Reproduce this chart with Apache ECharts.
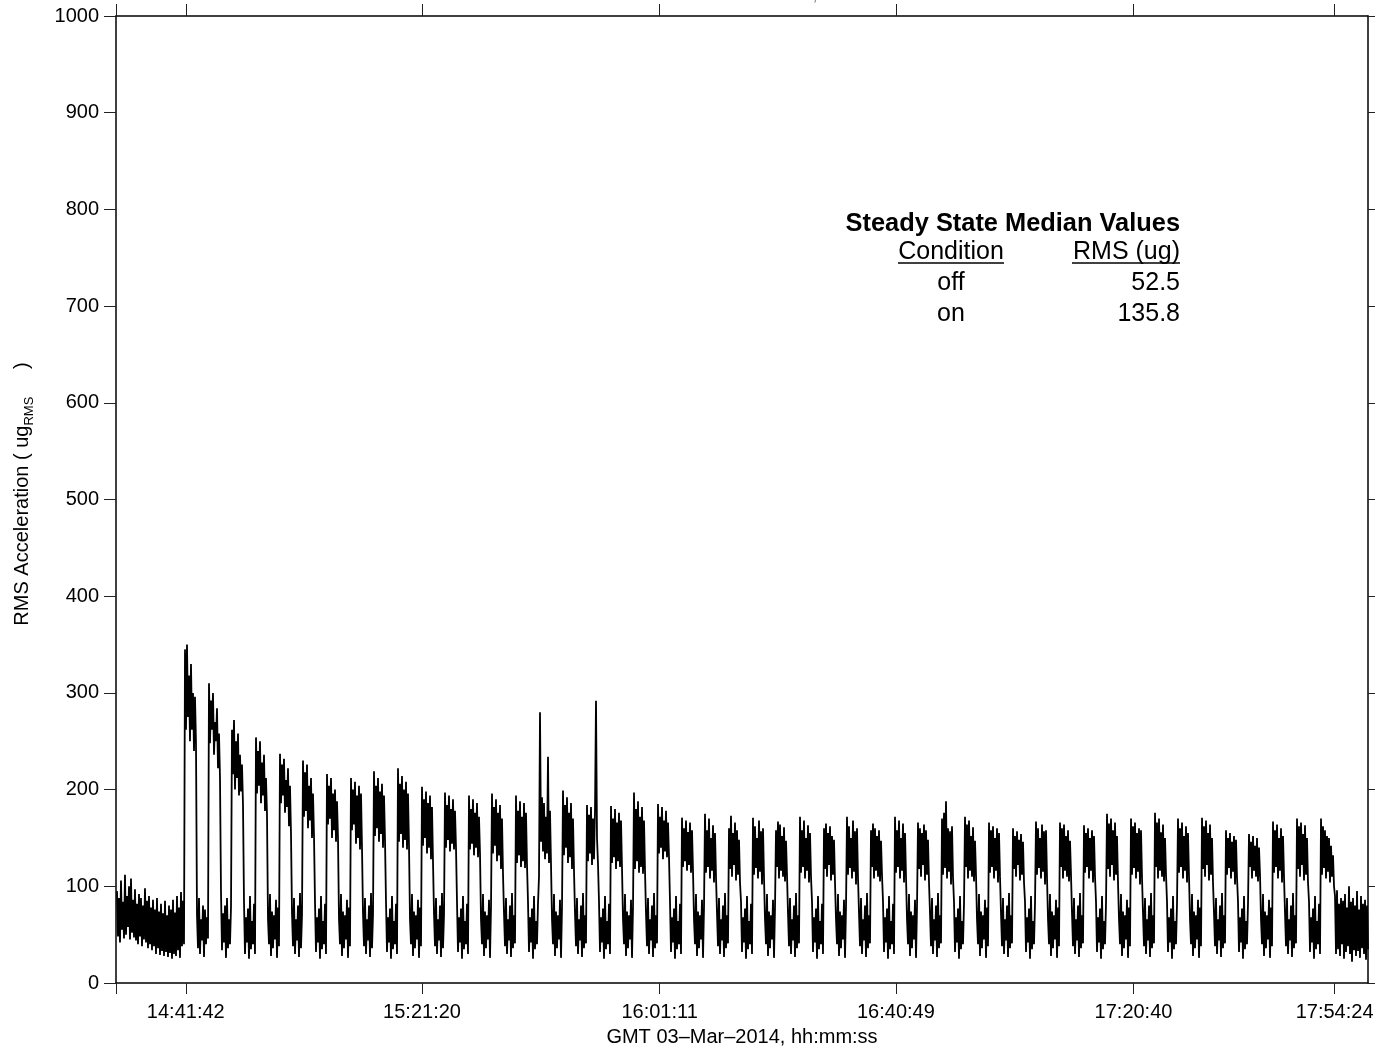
<!DOCTYPE html>
<html><head><meta charset="utf-8">
<script src="https://cdn.jsdelivr.net/npm/echarts@6/dist/echarts.min.js"></script>
<style>html,body{margin:0;padding:0;background:#fff}#c{width:1375px;height:1047px}</style>
</head><body><div id="c"></div>
<script>
const FONT = '"Liberation Sans", Arial, Helvetica, sans-serif';
// x axis (seconds of day)
const axisStart = 52200;   // 14:30:00
const axisEnd = 64800;     // 18:00:00
const tickSeconds = [52902, 55280, 57671, 60049, 62440, 64464];
const tickLabels = ['14:41:42', '15:21:20', '16:01:11', '16:40:49', '17:20:40', '17:54:24'];
// samples
const sampleStart = 52210;
const sampleStep = 10.064;
// median table
const tableConditions = ['off', 'on'];
const tableValues = ['52.5', '135.8'];

// RMS values (ug): alternating upper / lower excursions
const rmsBefore = [95,48,88,42,106,55,84,46,112,50,90,58,100,45,108,52,86,47,97,44,82,40,92,48,88,38,80,45,98,42,85,36,90,40,78,34,86,38,76,30,88,36,74,29,82,33,72,28,85,32,70,27,80,31,76,25,86,30,73,28,90,34,78,26,94,38,85,40];
const rmsCycles = [
[345,262,350,275,318,250,330,262,300,240,296,248, 70,36,88,30,66,44,80,27,76,40,68,46],
[310,248,292,262,300,236,270,250,284,222,258,212, 94,34,72,42,80,26,88,36,66,40,78],
[262,216,272,200,250,212,258,194,236,198,226,184, 84,30,68,42,77,25,90,35,64,40,82,30],
[254,196,240,204,250,186,228,194,236,178,212,174, 66,40,92,28,74,36,70,45,86,26,78,38],
[237,186,226,194,232,176,210,182,222,162,204,154, 72,38,88,30,66,44,80,27,93,36,70],
[230,172,218,178,226,160,204,168,212,150,196,152, 84,32,68,42,77,25,90,35,64,40,82,30],
[216,164,204,170,212,150,196,158,200,146,188,150, 66,40,92,28,74,36,70,45,86,26,78,38],
[212,158,200,164,208,144,194,150,204,138,196,140, 72,38,88,30,66,44,80,27,93,36,70],
[219,152,204,160,212,146,198,154,206,140,194,148, 84,32,68,42,77,25,90,35,64,40,82,30],
[222,146,206,154,214,140,200,148,208,138,196,142, 66,40,92,28,74,36,70,45,86,26,78,38],
[203,142,190,150,198,134,186,140,194,128,182,126, 72,38,88,30,66,44,80,27,93,36,70],
[197,140,184,148,194,136,180,144,190,138,178,140, 84,32,68,42,77,25,90,35,64,40,82,30],
[194,138,180,144,190,132,176,140,186,130,172,134, 66,40,92,28,74,36,70,45,86,26,78],
[196,134,182,142,190,126,176,132,184,118,170,113, 72,38,88,30,66,44,80,27,93,36,70,41],
[194,124,178,132,188,120,172,126,186,119,176,122, 84,32,68,42,77,25,90,35,64,40,82,110],
[280,146,192,136,186,128,172,134,234,124,178,123, 66,40,92,28,74,36,70,45,86,26,78],
[199,132,184,140,192,124,176,130,186,118,170,116, 72,38,88,30,66,44,80,27,93,36,70,41],
[184,126,174,134,182,122,170,128,178,292,150,123, 84,32,68,42,77,25,90,35,64,40,82,30],
[183,124,170,130,180,118,166,126,176,120,168,119, 66,40,92,28,74,36,70,45,86,26,78],
[197,118,180,126,188,114,172,120,182,113,168,116, 72,38,88,30,66,44,80,27,93,36,70,41],
[185,134,172,140,182,128,168,136,178,130,166,130, 84,32,68,42,77,25,90,35,64,40,82,30],
[171,120,160,126,168,116,156,122,166,114,158,116, 66,40,92,28,74,36,70,45,86,26,78],
[175,114,158,120,170,108,150,116,163,104,155,110, 72,38,88,30,66,44,80,27,93,36,70,41],
[160,118,173,110,155,122,166,106,158,112,148,104, 84,32,68,42,77,25,90,35,64,40,82,30],
[171,112,162,119,150,108,168,115,157,102,160,109, 66,40,92,28,74,36,70,45,86,26,78],
[158,120,167,108,164,116,152,110,161,105,147,112, 72,38,88,30,66,44,80,27,93,36,70,41],
[172,114,158,120,168,108,150,116,163,104,155,110, 84,32,68,42,77,25,90,35,64,40,82,30],
[160,118,165,110,155,122,162,106,152,112,148,104, 66,40,92,28,74,36,70,45,86,26,78],
[172,112,162,119,150,108,168,115,157,102,160,109, 72,38,88,30,66,44,80,27,93,36,70,41],
[158,120,165,108,160,116,152,110,158,105,147,112, 84,32,68,42,77,25,90,35,64,40,82,30],
[172,114,158,120,168,108,150,116,165,104,155,110, 66,40,92,28,74,36,70,45,86,26,78],
[166,118,160,110,155,122,164,106,158,112,148,104, 72,38,88,30,66,44,80,27,93,36,70,41],
[170,112,176,119,188,108,160,115,157,102,162,109, 84,32,68,42,77,25,90,35,64,40,82],
[172,120,164,108,168,116,152,110,161,105,147,112, 66,40,92,28,74,36,70,45,86,26,78,38],
[166,114,158,120,162,108,150,116,160,104,155,110, 72,38,88,30,66,44,80,27,93,36,70,41],
[160,118,152,110,157,122,148,106,154,112,146,104, 84,32,68,42,77,25,90,35,64,40,82],
[167,112,160,119,150,108,164,115,157,102,158,109, 66,40,92,28,74,36,70,45,86,26,78,38],
[166,120,160,108,164,116,152,110,158,105,147,112, 72,38,88,30,66,44,80,27,93,36,70,41],
[163,114,155,120,160,108,150,116,158,104,152,110, 84,32,68,42,77,25,90,35,64,40,82],
[175,118,165,110,170,122,158,106,166,112,152,104, 66,40,92,28,74,36,70,45,86,26,78,38],
[170,112,162,119,166,108,155,115,160,102,158,109, 72,38,88,30,66,44,80,27,93,36,70,41],
[176,120,166,108,170,116,156,110,164,105,150,112, 84,32,68,42,77,25,90,35,64,40,82],
[170,114,160,120,166,108,152,116,162,104,155,110, 66,40,92,28,74,36,70,45,86,26,78,38],
[171,118,162,110,168,122,155,106,164,112,150,104, 72,38,88,30,66,44,80,27,93,36,70,41],
[158,112,150,119,155,108,146,115,152,102,148,109, 84,32,68,42,77,25,90,35,64,40,82],
[154,120,146,108,152,116,142,110,150,105,140,112, 66,40,92,28,74,36,70,45,86,26,78,38],
[167,114,158,120,164,108,150,116,160,104,152,110, 72,38,88,30,66,44,80,27,93,36,70,41],
[170,118,162,110,166,122,154,106,163,112,150,104, 84,32,68,42,77,25,90,35,64,40,82,30],
[170,112,162,119,158,108,152,115,150,104,142,110,132,100]
];
const rmsAfter = [90,30,96,35,82,28,88,40,85,25,92,32,78,38,100,30,84,22,88,34,80,28,95,33,76,26,90,36,82,30,86,24,80,35];

const rms = rmsBefore.concat(...rmsCycles, rmsAfter);
const seriesData = rms.map((v, i) => [sampleStart + i * sampleStep, v]);

function labelFor(v) {
  for (let k = 0; k < tickSeconds.length; k++) if (Math.abs(tickSeconds[k] - v) < 1) return tickLabels[k];
  return '';
}

const chart = echarts.init(document.getElementById('c'), null, {renderer: 'canvas'});
const axisLineStyle = {color: '#000', width: 1.5};
const tickStyle = {color: '#222', width: 1};

const option = {
  animation: false,
  backgroundColor: '#fff',
  grid: {left: 116, right: 7, top: 16, bottom: 64, containLabel: false, outerBoundsMode: 'none'},
  xAxis: [{
    type: 'value', min: axisStart, max: axisEnd, position: 'bottom',
    axisLine: {show: true, onZero: false, lineStyle: axisLineStyle},
    axisTick: {show: true, inside: false, length: 11, customValues: [axisStart].concat(tickSeconds), lineStyle: tickStyle},
    axisLabel: {show: true, customValues: tickSeconds, formatter: labelFor, fontSize: 20, color: '#000', fontFamily: FONT, margin: 19},
    splitLine: {show: false},
    name: 'GMT 03\u2013Mar\u20132014, hh:mm:ss', nameLocation: 'middle', nameGap: 44,
    nameTextStyle: {fontSize: 20, color: '#000', fontFamily: FONT}
  }, {
    type: 'value', min: axisStart, max: axisEnd, position: 'top',
    axisLine: {show: true, onZero: false, lineStyle: axisLineStyle},
    axisTick: {show: true, inside: false, length: 12, customValues: [axisStart].concat(tickSeconds), lineStyle: tickStyle},
    axisLabel: {show: false},
    splitLine: {show: false}
  }],
  yAxis: [{
    type: 'value', min: 0, max: 1000, interval: 100, position: 'left',
    axisLine: {show: true, onZero: false, lineStyle: axisLineStyle},
    axisTick: {show: true, inside: false, length: 12, lineStyle: tickStyle},
    axisLabel: {show: true, fontSize: 20, color: '#000', fontFamily: FONT, margin: 17, formatter: v => String(v)},
    splitLine: {show: false},
    name: '{a|  RMS Acceleration ( ug}{b|RMS}{a|     )}', nameLocation: 'middle', nameGap: 80,
    nameTextStyle: {
      color: '#000', fontFamily: FONT,
      rich: {
        a: {fontSize: 20, lineHeight: 28, verticalAlign: 'middle', color: '#000', fontFamily: FONT},
        b: {fontSize: 13, lineHeight: 15, verticalAlign: 'bottom', color: '#000', fontFamily: FONT}
      }
    }
  }, {
    type: 'value', min: 0, max: 1000, interval: 100, position: 'right',
    axisLine: {show: true, onZero: false, lineStyle: axisLineStyle},
    axisTick: {show: true, inside: false, length: 8, lineStyle: tickStyle},
    axisLabel: {show: false},
    splitLine: {show: false}
  }],
  series: [{
    type: 'line', xAxisIndex: 0, yAxisIndex: 0,
    data: seriesData, showSymbol: false, symbol: 'none',
    lineStyle: {color: '#000', width: 1.8}, silent: true, clip: true
  }],
  graphic: [
    {type: 'text', x: 755, y: 4, silent: true,
     style: {text: 'Start GMT 03\u2013March\u20132014, 062/14:30:00', font: '20px ' + FONT, fill: '#888', align: 'center', verticalAlign: 'bottom'}},
    {type: 'text', x: 1180, y: 224, silent: true,
     style: {text: 'Steady State Median Values', font: 'bold 25.4px ' + FONT, fill: '#000', align: 'right', verticalAlign: 'middle'}},
    {type: 'text', x: 951, y: 252, silent: true,
     style: {text: 'Condition', font: '25px ' + FONT, fill: '#000', align: 'center', verticalAlign: 'middle'}},
    {type: 'text', x: 1180, y: 252, silent: true,
     style: {text: 'RMS (ug)', font: '25px ' + FONT, fill: '#000', align: 'right', verticalAlign: 'middle'}},
    {type: 'line', silent: true, shape: {x1: 898, y1: 263, x2: 1004, y2: 263}, style: {stroke: '#000', lineWidth: 1.5}},
    {type: 'line', silent: true, shape: {x1: 1072, y1: 263, x2: 1180, y2: 263}, style: {stroke: '#000', lineWidth: 1.5}},
    {type: 'text', x: 951, y: 283, silent: true,
     style: {text: tableConditions[0], font: '25px ' + FONT, fill: '#000', align: 'center', verticalAlign: 'middle'}},
    {type: 'text', x: 1180, y: 283, silent: true,
     style: {text: tableValues[0], font: '25px ' + FONT, fill: '#000', align: 'right', verticalAlign: 'middle'}},
    {type: 'text', x: 951, y: 314, silent: true,
     style: {text: tableConditions[1], font: '25px ' + FONT, fill: '#000', align: 'center', verticalAlign: 'middle'}},
    {type: 'text', x: 1180, y: 314, silent: true,
     style: {text: tableValues[1], font: '25px ' + FONT, fill: '#000', align: 'right', verticalAlign: 'middle'}}
  ]
};
chart.setOption(option);
</script>
</body></html>
